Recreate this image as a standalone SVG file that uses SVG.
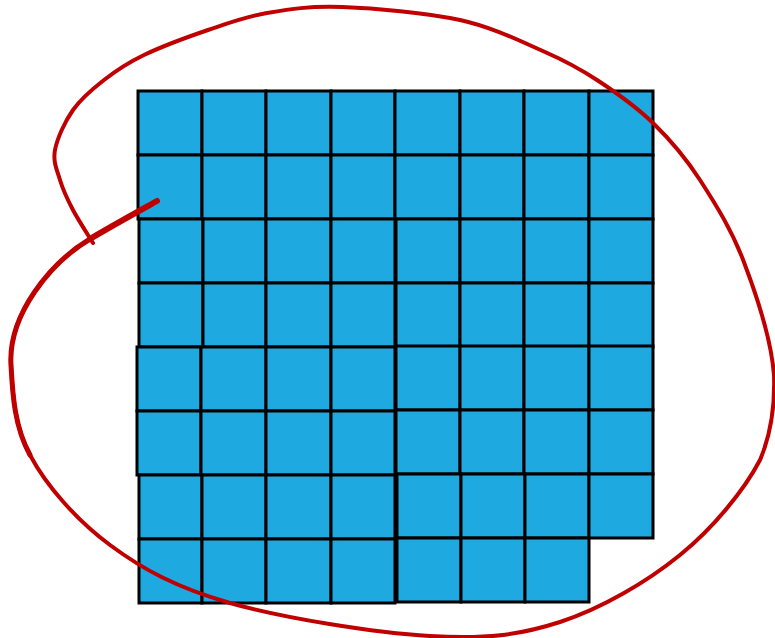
<svg xmlns="http://www.w3.org/2000/svg" width="775" height="638" viewBox="0 0 775 638">
<style>
rect.c{fill:#1EAAE1;stroke:#000;stroke-width:3}
.red{fill:none;stroke:#C00000;stroke-linecap:round;stroke-linejoin:round}
</style>
<rect width="775" height="638" fill="#fff"/>
<g id="grid">
<g id="r0">
<rect class="c" x="138" y="91" width="64" height="64"/><rect class="c" x="202" y="91" width="64" height="64"/><rect class="c" x="266" y="91" width="65" height="64"/><rect class="c" x="331" y="91" width="64" height="64"/>
<rect class="c" x="395" y="91" width="65" height="64"/><rect class="c" x="460" y="91" width="64" height="64"/><rect class="c" x="524" y="91" width="65" height="64"/><rect class="c" x="589" y="91" width="64" height="64"/>
</g>
<g id="r1">
<rect class="c" x="138" y="155" width="64" height="64"/><rect class="c" x="202" y="155" width="64" height="64"/><rect class="c" x="266" y="155" width="65" height="64"/><rect class="c" x="331" y="155" width="64" height="64"/>
<rect class="c" x="395" y="155" width="65" height="64"/><rect class="c" x="460" y="155" width="64" height="64"/><rect class="c" x="524" y="155" width="65" height="64"/><rect class="c" x="589" y="155" width="64" height="64"/>
</g>
<g id="r2">
<rect class="c" x="139" y="219" width="64" height="64"/><rect class="c" x="203" y="219" width="63" height="64"/><rect class="c" x="266" y="219" width="65" height="64"/><rect class="c" x="331" y="219" width="64" height="64"/>
<rect class="c" x="396" y="219" width="64" height="64"/><rect class="c" x="460" y="219" width="64" height="64"/><rect class="c" x="524" y="219" width="65" height="64"/><rect class="c" x="589" y="219" width="64" height="64"/>
</g>
<g id="r3">
<rect class="c" x="139" y="283" width="64" height="64"/><rect class="c" x="203" y="283" width="63" height="64"/><rect class="c" x="266" y="283" width="65" height="64"/><rect class="c" x="331" y="283" width="64" height="64"/>
<rect class="c" x="396" y="283" width="64" height="64"/><rect class="c" x="460" y="283" width="64" height="64"/><rect class="c" x="524" y="283" width="65" height="64"/><rect class="c" x="589" y="283" width="64" height="64"/>
</g>
<g id="r4">
<rect class="c" x="137" y="347" width="64" height="64"/><rect class="c" x="201" y="347" width="65" height="64"/><rect class="c" x="266" y="347" width="65" height="64"/><rect class="c" x="331" y="347" width="64" height="64"/>
<rect class="c" x="396" y="346" width="64" height="64"/><rect class="c" x="460" y="346" width="64" height="64"/><rect class="c" x="524" y="346" width="65" height="64"/><rect class="c" x="589" y="346" width="64" height="64"/>
</g>
<g id="r5">
<rect class="c" x="137" y="411" width="64" height="64"/><rect class="c" x="201" y="411" width="65" height="64"/><rect class="c" x="266" y="411" width="65" height="64"/><rect class="c" x="331" y="411" width="64" height="64"/>
<rect class="c" x="396" y="410" width="64" height="64"/><rect class="c" x="460" y="410" width="64" height="64"/><rect class="c" x="524" y="410" width="65" height="64"/><rect class="c" x="589" y="410" width="64" height="64"/>
</g>
<g id="r6">
<rect class="c" x="139" y="475" width="63" height="64"/><rect class="c" x="202" y="475" width="64" height="64"/><rect class="c" x="266" y="475" width="65" height="64"/><rect class="c" x="331" y="475" width="64" height="64"/>
<rect class="c" x="397" y="474" width="64" height="64"/><rect class="c" x="461" y="474" width="64" height="64"/><rect class="c" x="525" y="474" width="64" height="64"/><rect class="c" x="589" y="474" width="64" height="64"/>
</g>
<g id="r7">
<rect class="c" x="139" y="539" width="63" height="64"/><rect class="c" x="202" y="539" width="64" height="64"/><rect class="c" x="266" y="539" width="65" height="64"/><rect class="c" x="331" y="539" width="64" height="64"/>
<rect class="c" x="397" y="538" width="64" height="64"/><rect class="c" x="461" y="538" width="64" height="64"/><rect class="c" x="525" y="538" width="64" height="64"/>
</g>
</g>
<g id="connectors">
<path class="red" stroke-width="4" d="M157,201 C145.8,207.3 110,227 90,239 C50,263 8,315 11,365 C12.5,390 13.5,425 30,455 C46.3,485.8 76.7,520.3 110,545 C143.3,569.7 176.7,587.8 230,603 C283.3,618.2 375,632.8 430,636 C485,639.2 518.3,635.5 560,622 C601.7,608.5 646.7,582 680,555 C713.3,528 744.3,490 760,460 C772,432 775,405 774,375 C771.5,342.5 757.3,297.5 745,265 C733,231.7 715.3,203.7 700,180 C684.7,156.3 670.2,139.7 653,123 C635.8,106.3 615,91.8 597,80 C579,68.2 567.8,62 545,52 C522.2,42 493.8,27.5 460,20 C426.2,12.5 374.2,8.2 342,7 C309.2,5.8 289.3,9.2 267,13 C244.7,16.8 228.5,23 208,30 C187.5,37 161.3,46.7 144,55 C126.7,63.3 115.8,70.8 104,80 C92.2,89.2 81.2,98.3 73,110 C64.8,121.7 57.2,138.3 55,150 C52.8,161.7 57,170 60,180 C63,190 67.5,199.5 73,210 C78.5,220.5 89.7,237.5 93,243"/>
<path class="red" stroke-width="6" d="M157,201 C145.8,207.3 110,227 90,239"/>
<path class="red" stroke-width="5" d="M90,239 C50,263 8,315 11,365 C12.5,390 13.5,425 30,455"/>
</g>
</svg>
